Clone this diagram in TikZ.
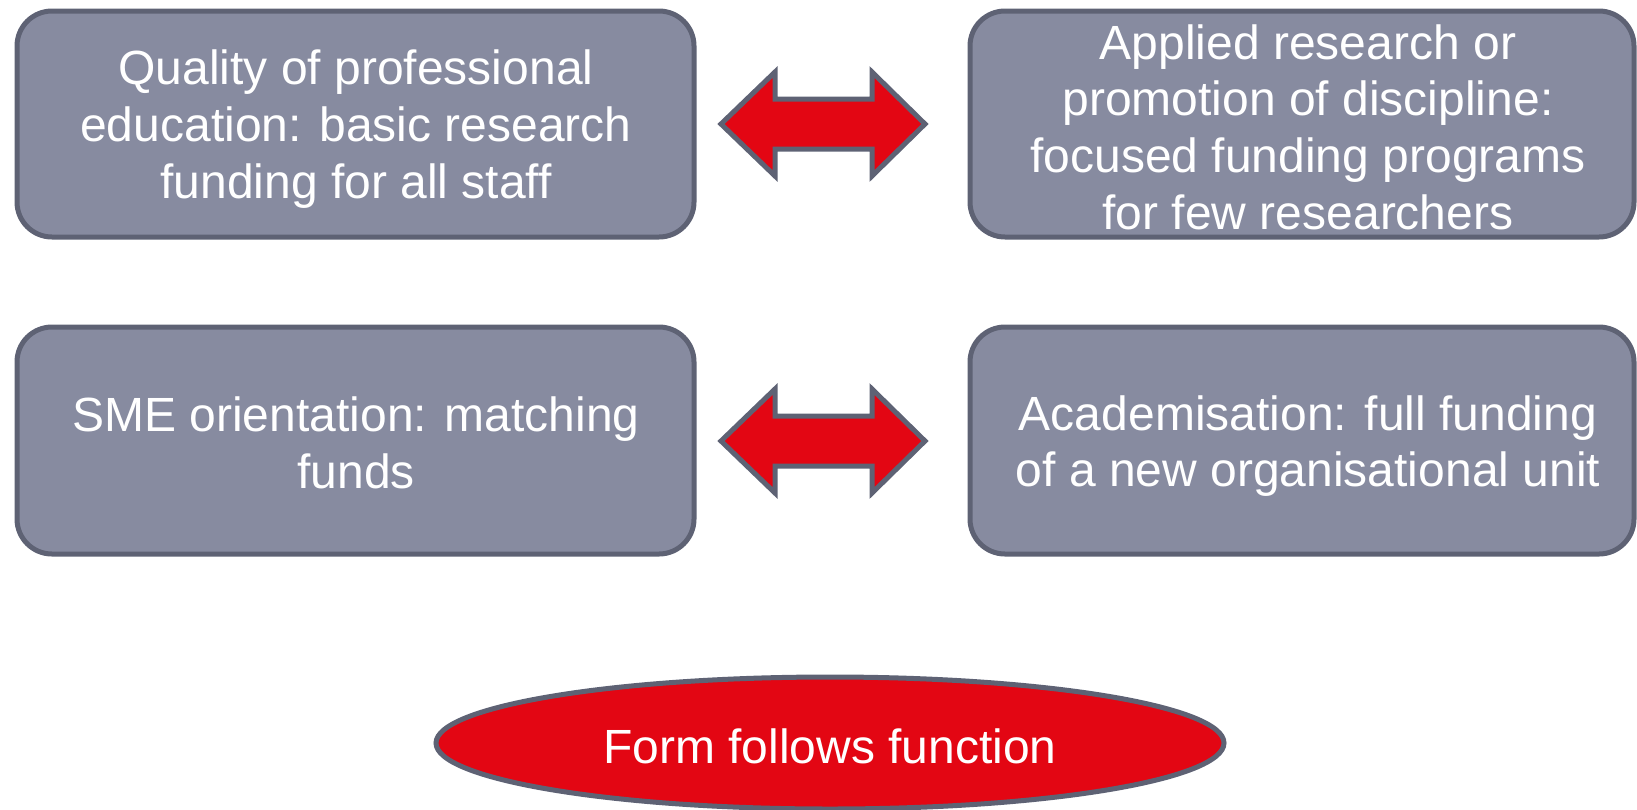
\documentclass[tikz,border=0pt]{standalone}
\usepackage{fontspec}
\setmainfont{Liberation Sans}
\usetikzlibrary{shapes.geometric}
\definecolor{boxfill}{HTML}{878BA0}
\definecolor{boxline}{HTML}{5E6274}
\definecolor{redfill}{HTML}{E30613}
\begin{document}
\begin{tikzpicture}[x=0.5pt,y=-0.5pt,
  box/.style={draw=boxline, fill=boxfill, line width=2.5pt, rounded corners=17.5pt, inner sep=0pt},
  boxtext/.style={text=white, font=\fontsize{24}{28.3}\selectfont, align=center, inner sep=0pt},
  blockarrow/.style={draw=boxline, fill=redfill, line width=2.5pt, line join=miter},
  oval/.style={ellipse, draw=boxline, fill=redfill, line width=2.5pt, inner sep=0pt,
    minimum width=394pt, minimum height=66pt}]
\useasboundingbox (0,0) rectangle (1637,809);

\node[box, minimum width=338.5pt, minimum height=113pt] (b1) at (355.5,124) {};
\node[box, minimum width=332pt, minimum height=113pt] (b2) at (1302,124) {};
\node[box, minimum width=338.5pt, minimum height=113.5pt] (b3) at (355.5,440.5) {};
\node[box, minimum width=332pt, minimum height=113.5pt] (b4) at (1302,440.5) {};

\node[boxtext] (t1) at (356,129) {Quality of professional\\education: basic research\\funding for all staff};
\node[boxtext] (t2) at (1308,127) {Applied research or\\promotion of discipline:\\focused funding programs\\for few researchers};
\node[boxtext] (t3) at (356,443) {SME orientation: matching\\funds};
\node[boxtext] (t4) at (1308,446) {Academisation: full funding\\of a new organisational unit};

\foreach \yy in {124,441} {
  \draw[blockarrow] (721,\yy) -- (775,\yy-52) -- (775,\yy-25) -- (872,\yy-25) -- (872,\yy-52)
     -- (925,\yy) -- (872,\yy+52) -- (872,\yy+25) -- (775,\yy+25) -- (775,\yy+52) -- cycle;
}

\node[oval] (e) at (830,743) {};
\node[boxtext] (et) at (830,746) {Form follows function};
\end{tikzpicture}
\end{document}
